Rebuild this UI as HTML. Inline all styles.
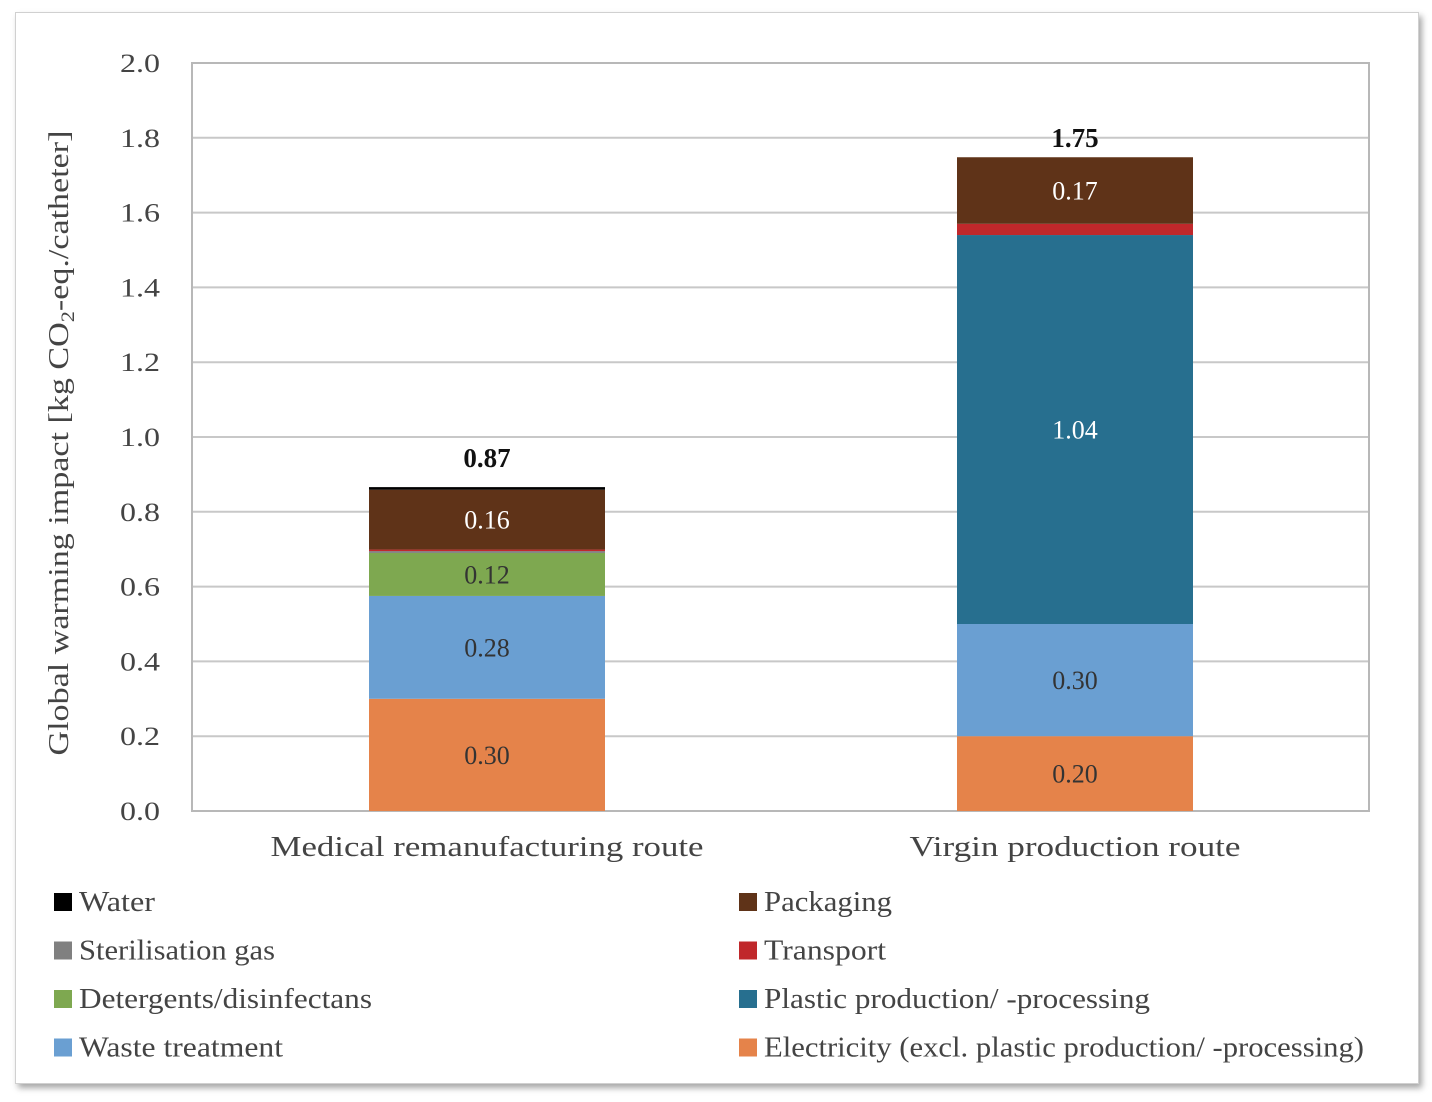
<!DOCTYPE html>
<html><head><meta charset="utf-8"><style>
body{margin:0;background:#fff;width:1432px;height:1102px;overflow:hidden;font-family:"Liberation Serif",serif}
#frame{position:absolute;left:15px;top:12px;width:1402px;height:1070px;border:1px solid #d0d0d0;box-shadow:3px 4px 6px rgba(0,0,0,.35);background:#fff}
</style></head><body>
<div id="frame"></div>
<svg id="chart" width="1432" height="1102" style="position:absolute;left:0;top:0"></svg>
<script>
const categories=["Medical remanufacturing route","Virgin production route"];
const seriesNames=["Electricity (excl. plastic production/ -processing)","Waste treatment","Plastic production/ -processing","Detergents/disinfectans","Sterilisation gas","Transport","Packaging","Water"];
const seriesColors=["#e5834a","#6a9fd2","#276f8f","#7ea850","#808080","#c0282b","#5f3318","#000000"];
const medicalValues=[0.30,0.275,0,0.115,0.005,0.004,0.16,0.007];
const virginValues=[0.20,0.30,1.04,0,0,0.03,0.178,0];
const medicalLabels=["0.30","0.28","","0.12","","","0.16",""];
const virginLabels=["0.20","0.30","1.04","","","","0.17",""];
const totals=["0.87","1.75"];
const yTicks=[0,0.2,0.4,0.6,0.8,1.0,1.2,1.4,1.6,1.8,2.0];
const labelColors=["#333","#333","#fff","#333","#fff","#fff","#fff","#fff"];
const legendOrder=[7,6,4,5,3,2,1,0];
const categoryWidths=[433,331];
const legendWidths=[600,204,386,293,196,122,128,76];

const svg=document.getElementById('chart');const NS="http://www.w3.org/2000/svg";
function mk(t,a,p){const e=document.createElementNS(NS,t);for(const k in a)e.setAttribute(k,a[k]);(p||svg).appendChild(e);return e;}
const x0=192,x1=1369,yTop=63,yBot=811;
const y=v=>yBot-(v/2.0)*(yBot-yTop);
const barCenters=[487,1075],barW=236;

yTicks.forEach(t=>{
  const l=mk('line',{x1:x0,x2:x1,y1:y(t),y2:y(t),stroke:'#c8c8c8','stroke-width':2});
  
  
  const tx=mk('text',{x:160,y:y(t)+9,'text-anchor':'end','font-size':26,fill:'#444',textLength:40,lengthAdjust:'spacingAndGlyphs'});tx.textContent=t.toFixed(1);
  
  
});
const pa=mk('rect',{x:x0,y:yTop,width:x1-x0,height:yBot-yTop,fill:'none',stroke:'#b8b8b8','stroke-width':2});



[medicalValues,virginValues].forEach((vals,ci)=>{
  const labs=ci==0?medicalLabels:virginLabels;let cum=0;
  vals.forEach((v,si)=>{
    if(v<=0)return;
    const r=mk('rect',{x:barCenters[ci]-barW/2,y:y(cum+v),width:barW,height:y(cum)-y(cum+v),fill:seriesColors[si]});
    
    
    if(labs[si]){const t=mk('text',{x:barCenters[ci],y:(y(cum)+y(cum+v))/2+9,'text-anchor':'middle','font-size':26,fill:labelColors[si]});t.textContent=labs[si];
      
      }
    cum+=v;
  });
  const tt=mk('text',{x:barCenters[ci],y:y(cum)-20+(ci==1?10:0),'text-anchor':'middle','font-size':27,'font-weight':'bold',fill:'#111'});tt.textContent=totals[ci];
  
  
  const cl=mk('text',{x:barCenters[ci],y:856,'text-anchor':'middle','font-size':28,fill:'#444',textLength:categoryWidths[ci],lengthAdjust:'spacingAndGlyphs'});cl.textContent=categories[ci];
  
  
});
const yt=mk('text',{x:0,y:0,'text-anchor':'middle','font-size':29,fill:'#444',transform:'translate(68,443) rotate(-90)',textLength:625,lengthAdjust:'spacingAndGlyphs'});
yt.innerHTML='Global warming impact [kg CO<tspan font-size="19" dy="6">2</tspan><tspan dy="-6">-eq./catheter]</tspan>';



legendOrder.forEach((si,i)=>{
  const col=i%2,row=Math.floor(i/2);
  const lx=col==0?54:739,ly=893+row*48.5;
  const g=mk('g',{});
  
  
  mk('rect',{x:lx,y:ly,width:18,height:18,fill:seriesColors[si]},g);
  const t=mk('text',{x:lx+25,y:ly+18,'font-size':28,fill:'#444',textLength:legendWidths[si],lengthAdjust:'spacingAndGlyphs'},g);t.textContent=seriesNames[si];
});
</script>
</body></html>
